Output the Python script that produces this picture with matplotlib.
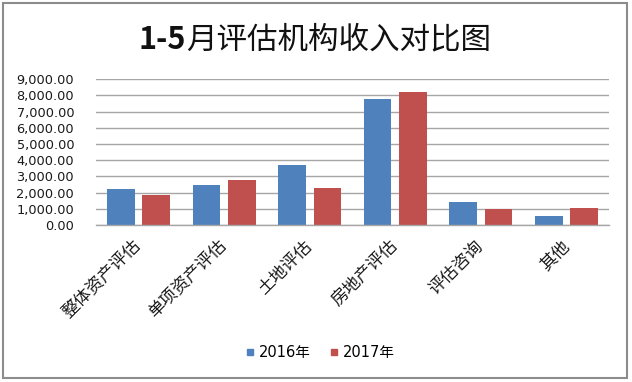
import matplotlib
matplotlib.use("Agg")
import matplotlib.pyplot as plt
from matplotlib.patches import Rectangle
from matplotlib.lines import Line2D
import numpy as np

categories = ["整体资产评估", "单项资产评估", "土地评估", "房地产评估", "评估咨询", "其他"]
series_names = ["2016年", "2017年"]
values_2016 = [2225, 2490, 3730, 7785, 1450, 585]
values_2017 = [1855, 2800, 2285, 8200, 995, 1060]
yticks = [0, 1000, 2000, 3000, 4000, 5000, 6000, 7000, 8000, 9000]
ytick_labels = ["0.00", "1,000.00", "2,000.00", "3,000.00", "4,000.00",
                "5,000.00", "6,000.00", "7,000.00", "8,000.00", "9,000.00"]
title_bold = "1-5"
title_rest = "月评估机构收入对比图"

blue = "#4F81BD"
red = "#C0504D"
grid_c = "#A6A6A6"
cjk = ["Noto Sans CJK SC", "DejaVu Sans"]

W, H = 632, 382
fig = plt.figure(figsize=(W / 100, H / 100), dpi=100)
ax = fig.add_axes([95.7 / W, 1 - 225 / H, (609.3 - 95.7) / W, (225 - 79.3) / H])

x = np.arange(len(categories)) + 0.5
bw = 0.3225
off = bw / 2 + 0.0465
ax.bar(x - off, values_2016, width=bw, color=blue, zorder=3)
ax.bar(x + off, values_2017, width=bw, color=red, zorder=3)

ax.set_xlim(0, len(categories))
ax.set_ylim(0, 9000)
ax.set_yticks(yticks)
ax.set_yticklabels(ytick_labels, fontsize=9.3, family="DejaVu Sans", color="#1a1a1a")
ax.yaxis.grid(True, color=grid_c, linewidth=1.0, zorder=0)
ax.tick_params(axis="y", length=0, pad=15.5)
for s in ["left", "right", "top"]:
    ax.spines[s].set_visible(False)
ax.spines["bottom"].set_color(grid_c)
ax.spines["bottom"].set_linewidth(1.0)
ax.spines["bottom"].set_zorder(4)

ax.set_xticks(x)
ax.set_xticklabels(categories, rotation=45, ha="right", va="center",
                   rotation_mode="anchor", fontsize=12.3, family=cjk, color="#1a1a1a")
ax.tick_params(axis="x", length=0, pad=13)

# title: bold "1-5" + regular rest, centered
t1 = fig.text(0, 1 - 40 / H, title_bold, fontsize=22, fontweight="bold",
              family=cjk, va="center", ha="left", color="#111111")
t2 = fig.text(0, 1 - 40 / H, title_rest, fontsize=22, family=cjk,
              va="center", ha="left", color="#111111")
fig.canvas.draw()
r = fig.canvas.get_renderer()
w1 = t1.get_window_extent(r).width
w2 = t2.get_window_extent(r).width
start = 315 - (w1 + w2) / 2
t1.set_x(start / W)
t2.set_x((start + w1) / W)

handles = [Line2D([], [], marker="s", linestyle="none", markersize=5, color=blue),
           Line2D([], [], marker="s", linestyle="none", markersize=5, color=red)]
fig.legend(handles, series_names, loc="center", bbox_to_anchor=(319.5 / W, 1 - 353 / H),
           ncol=2, frameon=False, handletextpad=0.2, columnspacing=1.2,
           handlelength=0.8, prop={"family": ["DejaVu Sans", "Noto Sans CJK SC"], "size": 10.5})

fig.patches.append(Rectangle((3 / W, 4 / H), 624 / W, 375 / H, transform=fig.transFigure,
                             fill=False, edgecolor="#8C8C8C", linewidth=1.5))

fig.savefig("out.png", dpi=100)
